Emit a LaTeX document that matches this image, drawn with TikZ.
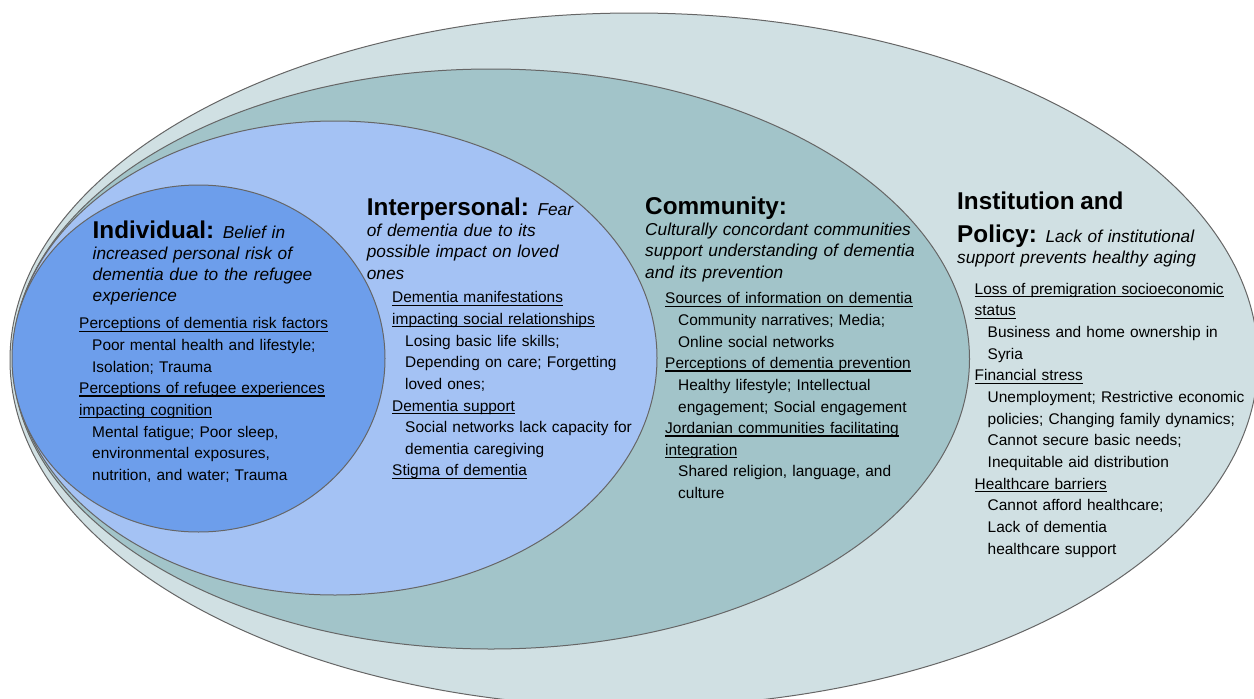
\documentclass[tikz,border=0pt]{standalone}
\usepackage{fontspec}
\setmainfont{Liberation Sans}
\usetikzlibrary{shapes.geometric}

\definecolor{policyfill}{HTML}{D0E0E3}
\definecolor{communityfill}{HTML}{A2C4C9}
\definecolor{interfill}{HTML}{A4C2F4}
\definecolor{indivfill}{HTML}{6D9EEB}
\definecolor{rimgray}{HTML}{666666}

\newcommand{\topic}[1]{\leavevmode\setbox0\hbox{#1}\rlap{\rule[-3.1pt]{\wd0}{1.3pt}}\box0}
\newcommand{\point}[1]{\leavevmode\hspace*{13pt}#1}
\newcommand{\levelname}[1]{{\fontsize{24.3}{29}\selectfont\bfseries\upshape #1}}

\tikzset{
  layer/.style={ellipse, draw=rimgray, line width=1pt, inner sep=0pt},
  heading/.style={anchor=base west, inner sep=0pt, text width=300pt, align=left,
    font=\fontsize{17.25}{21.3}\selectfont\itshape},
  factors/.style={anchor=base west, inner sep=0pt, text width=300pt, align=left,
    font=\fontsize{15.45}{21.66}\selectfont}
}

\begin{document}
\begin{tikzpicture}[x=1pt,y=-1pt]
  \useasboundingbox (0,0) rectangle (1254,699);
  % the four nested levels
  \node[layer, fill=policyfill, minimum width=1248pt, minimum height=694pt] (institution) at (634,360) {};
  \node[layer, fill=communityfill, minimum width=957pt, minimum height=580pt] (community) at (491,359) {};
  \node[layer, fill=interfill, minimum width=644pt, minimum height=474pt] (interpersonal) at (335,358) {};
  \node[layer, fill=indivfill, minimum width=373pt, minimum height=347pt] (individual) at (198.5,358.5) {};

  % individual
  \node[heading] (individual-title) at (92.5,238) {\levelname{Individual:} Belief in\\
    increased personal risk of\\dementia due to the refugee\\experience};
  \node[factors] (individual-list) at (79,328.7) {\topic{Perceptions of dementia risk factors}\\
    \point{Poor mental health and lifestyle;}\\
    \point{Isolation; Trauma}\\
    \topic{Perceptions of refugee experiences}\\
    \topic{impacting cognition}\\
    \point{Mental fatigue; Poor sleep,}\\
    \point{environmental exposures,}\\
    \point{nutrition, and water; Trauma}};

  % interpersonal
  \node[heading] (interpersonal-title) at (366.7,215.3) {\levelname{Interpersonal:} Fear\\
    of dementia due to its\\possible impact on loved\\ones};
  \node[factors] (interpersonal-list) at (392,302.7) {\topic{Dementia manifestations}\\
    \topic{impacting social relationships}\\
    \point{Losing basic life skills;}\\
    \point{Depending on care; Forgetting}\\
    \point{loved ones;}\\
    \topic{Dementia support}\\
    \point{Social networks lack capacity for}\\
    \point{dementia caregiving}\\
    \topic{Stigma of dementia}};

  % community
  \node[heading] (community-title) at (645,214.3) {\levelname{Community:}\\
    Culturally concordant communities\\support understanding of dementia\\and its prevention};
  \node[factors] (community-list) at (665,303.7) {\topic{Sources of information on dementia}\\
    \point{Community narratives; Media;}\\
    \point{Online social networks}\\
    \topic{Perceptions of dementia prevention}\\
    \point{Healthy lifestyle; Intellectual}\\
    \point{engagement; Social engagement}\\
    \topic{Jordanian communities facilitating}\\
    \topic{integration}\\
    \point{Shared religion, language, and}\\
    \point{culture}};

  % institution and policy
  \node[heading] (institution-title) at (957,209.3) {\levelname{Institution and}\\[11.4pt]
    \levelname{Policy:} Lack of institutional\\support prevents healthy aging};
  \node[factors] (institution-list) at (974.5,294.2) {\topic{Loss of premigration socioeconomic}\\
    \topic{status}\\
    \point{Business and home ownership in}\\
    \point{Syria}\\
    \topic{Financial stress}\\
    \point{Unemployment; Restrictive economic}\\
    \point{policies; Changing family dynamics;}\\
    \point{Cannot secure basic needs;}\\
    \point{Inequitable aid distribution}\\
    \topic{Healthcare barriers}\\
    \point{Cannot afford healthcare;}\\
    \point{Lack of dementia}\\
    \point{healthcare support}};
\end{tikzpicture}
\end{document}
